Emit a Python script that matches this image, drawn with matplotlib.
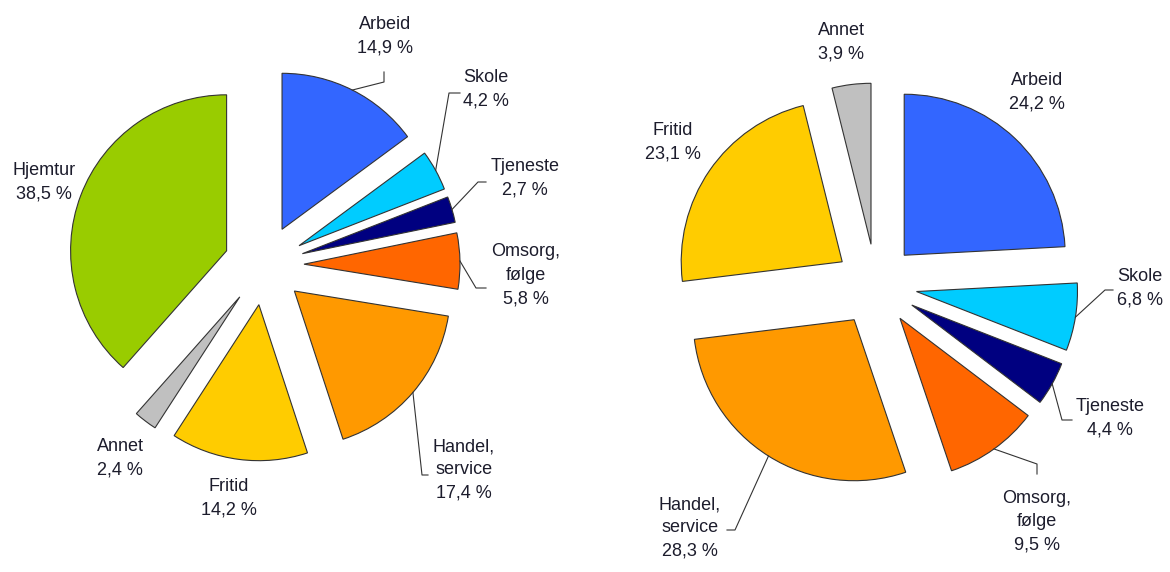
import numpy as np
import matplotlib
matplotlib.use("Agg")
import matplotlib.pyplot as plt

# data: reiseformål, andel i prosent
left_names = ["Arbeid", "Skole", "Tjeneste", "Omsorg,\nfølge", "Handel,\nservice",
              "Fritid", "Annet", "Hjemtur"]
left_values = [14.9, 4.2, 2.7, 5.8, 17.4, 14.2, 2.4, 38.5]

right_names = ["Arbeid", "Skole", "Tjeneste", "Omsorg,\nfølge", "Handel,\nservice",
               "Fritid", "Annet"]
right_values = [24.2, 6.8, 4.4, 9.5, 28.3, 23.1, 3.9]

colors = {
    "Arbeid": "#3366FF", "Skole": "#00CCFF", "Tjeneste": "#000080",
    "Omsorg,\nfølge": "#FF6600", "Handel,\nservice": "#FF9900",
    "Fritid": "#FFCC00", "Annet": "#C0C0C0", "Hjemtur": "#99CC00",
}

W, H = 1170, 572
plt.rcParams['font.family'] = ['Liberation Sans', 'DejaVu Sans']
txt_color = "#1c1c2c"

fig = plt.figure(figsize=(W / 100, H / 100), dpi=100)
ax = fig.add_axes([0, 0, 1, 1])


def Y(y):
    # piksel fra toppen -> dataenhet
    return H - y


def draw_pie(names, values, center, radius, expl, label_pos, leaders):
    wedges, _ = ax.pie(values, colors=[colors[n] for n in names],
                       center=(center[0], Y(center[1])), radius=radius,
                       explode=[expl] * len(values), startangle=90,
                       counterclock=False, frame=True,
                       wedgeprops=dict(edgecolor="#333333", linewidth=0.8))
    for w, n, v in zip(wedges, names, values):
        lab = n + "\n" + f"{v:.1f}".replace(".", ",") + " %"
        tx, ty = label_pos[n]
        ax.text(tx, Y(ty), lab, ha="center", va="center", fontsize=13,
                color=txt_color, linespacing=1.5)
        if n in leaders:
            th = np.deg2rad((w.theta1 + w.theta2) / 2)
            ax0 = w.center[0] + w.r * np.cos(th)
            ay0 = w.center[1] + w.r * np.sin(th)
            pts = leaders[n]
            xs = [ax0] + [p[0] for p in pts]
            ys = [ay0] + [Y(p[1]) for p in pts]
            ax.plot(xs, ys, color="#333333", lw=0.8)


left_labels = {
    "Arbeid": (385, 36), "Skole": (486, 89), "Tjeneste": (525, 178),
    "Omsorg,\nfølge": (526, 275), "Handel,\nservice": (464, 470),
    "Fritid": (229, 498), "Annet": (120, 458), "Hjemtur": (44, 182),
}
left_leaders = {
    "Arbeid": [(384, 82), (384, 72)],
    "Skole": [(449, 93), (460, 93)],
    "Tjeneste": [(478, 182), (486, 182)],
    "Omsorg,\nfølge": [(476, 288), (486, 288)],
    "Handel,\nservice": [(422, 475), (428, 475)],
}
draw_pie(left_names, left_values, (264, 265), 156, 40, left_labels, left_leaders)

right_labels = {
    "Arbeid": (1037, 92), "Skole": (1140, 288), "Tjeneste": (1110, 418),
    "Omsorg,\nfølge": (1037, 522), "Handel,\nservice": (690, 528),
    "Fritid": (673, 142), "Annet": (841, 42),
}
right_leaders = {
    "Skole": [(1105, 290), (1113, 290)],
    "Tjeneste": [(1062, 420), (1072, 420)],
    "Omsorg,\nfølge": [(1037, 464), (1037, 474)],
    "Handel,\nservice": [(735, 530), (727, 530)],
}
draw_pie(right_names, right_values, (876, 285), 161, 41, right_labels, right_leaders)

ax.set_xlim(0, W)
ax.set_ylim(0, H)
ax.set_aspect("equal")
ax.axis("off")

fig.savefig("out.png", dpi=100, facecolor="white")
